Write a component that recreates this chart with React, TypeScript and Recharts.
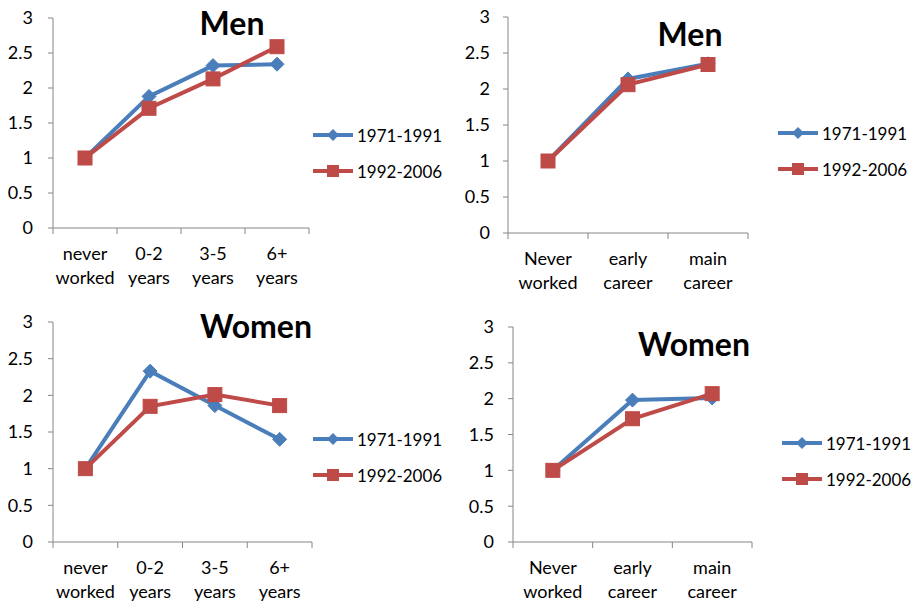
import React from "react";
import { LineChart, Line, XAxis, YAxis, Legend } from "recharts";

// categories
const yearsCats = ["never\nworked", "0-2\nyears", "3-5\nyears", "6+\nyears"];
const careerCats = ["Never\nworked", "early\ncareer", "main\ncareer"];

// series values
const men71Years = [1, 1.88, 2.32, 2.34];
const men92Years = [1, 1.71, 2.13, 2.59];
const men71Career = [1, 2.14, 2.35];
const men92Career = [1, 2.06, 2.34];
const women71Years = [1, 2.33, 1.86, 1.4];
const women92Years = [1, 1.85, 2.01, 1.86];
const women71Career = [1, 1.98, 2.01];
const women92Career = [1, 1.72, 2.07];

const seriesNames = ["1971-1991", "1992-2006"];
const yTicks = [0, 0.5, 1, 1.5, 2, 2.5, 3];

const BLUE = "#4A7EBB";
const RED = "#BE4B48";
const AXIS = "#868686";
const FONT = "Lato, 'Liberation Sans', sans-serif";

const Diamond = ({ cx, cy }: any) => {
	if (cx == null || cy == null) return null;
	const r = 7;
	return <path d={`M${cx},${cy - r}L${cx + r},${cy}L${cx},${cy + r}L${cx - r},${cy}Z`} fill={BLUE} stroke={BLUE} />;
};

const Square = ({ cx, cy }: any) => {
	if (cx == null || cy == null) return null;
	return <rect x={cx - 7} y={cy - 7} width={14} height={14} fill={RED} stroke={RED} />;
};

const CatTick = ({ x, y, payload, index, visibleTicksCount, step }: any) => {
	const lines = String(payload.value).split("\n");
	return (
		<g>
			<line x1={x - step / 2} x2={x - step / 2} y1={y} y2={y + 6} stroke={AXIS} />
			{index === visibleTicksCount - 1 && (
				<line x1={x + step / 2} x2={x + step / 2} y1={y} y2={y + 6} stroke={AXIS} />
			)}
			<text x={x} y={y + 32} textAnchor="middle" fill="#000" fontSize={18} fontFamily={FONT}>
				{lines[0]}
			</text>
			<text x={x} y={y + 56} textAnchor="middle" fill="#000" fontSize={18} fontFamily={FONT}>
				{lines[1]}
			</text>
		</g>
	);
};

const LegendBox = () => (
	<div style={{ fontFamily: FONT, fontSize: 17, color: "#000", whiteSpace: "nowrap" }}>
		{seriesNames.map((name, i) => (
			<div key={name} style={{ display: "flex", alignItems: "center", height: 36 }}>
				<svg width={40} height={16} style={{ marginRight: 4, flexShrink: 0 }}>
					<line x1={0} x2={40} y1={8} y2={8} stroke={i === 0 ? BLUE : RED} strokeWidth={4} />
					{i === 0 ? (
						<path d="M20,2L26,8L20,14L14,8Z" fill={BLUE} />
					) : (
						<rect x={14} y={2} width={12} height={12} fill={RED} />
					)}
				</svg>
				<span>{name}</span>
			</div>
		))}
	</div>
);

interface PanelProps {
	title: string;
	cats: string[];
	a: number[];
	b: number[];
	left: number;
	top: number;
	plot: { l: number; t: number; r: number; b: number };
	titlePos: [number, number];
	legendPos: [number, number];
	yGap: number;
}

const W = 457;
const H = 306;

function Panel({ title, cats, a, b, left, top, plot, titlePos, legendPos, yGap }: PanelProps) {
	const data = cats.map((c, i) => ({ cat: c, a: a[i], b: b[i] }));
	const step = (plot.r - plot.l) / cats.length;
	return (
		<div style={{ position: "absolute", left, top, width: W, height: H }}>
			<LineChart width={W} height={H} data={data} margin={{ top: plot.t, right: W - plot.r, bottom: 0, left: 0 }}>
				<XAxis
					dataKey="cat"
					interval={0}
					height={H - plot.b}
					padding={{ left: step / 2, right: step / 2 }}
					stroke={AXIS}
					tickLine={false}
					tickSize={0}
					tickMargin={0}
					tick={(p: any) => <CatTick {...p} step={step} />}
				/>
				<YAxis
					width={plot.l}
					domain={[0, 3]}
					ticks={yTicks}
					interval={0}
					stroke={AXIS}
					tickSize={5}
					tickMargin={yGap - 5}
					tick={{ fill: "#000", fontSize: 18, fontFamily: FONT }}
				/>
				<Legend
					layout="vertical"
					align="center"
					verticalAlign="middle"
					wrapperStyle={{ left: legendPos[0], top: legendPos[1], width: 140 }}
					content={() => <LegendBox />}
				/>
				<Line dataKey="a" name={seriesNames[0]} stroke={BLUE} strokeWidth={4} dot={<Diamond />} activeDot={false} isAnimationActive={false} />
				<Line dataKey="b" name={seriesNames[1]} stroke={RED} strokeWidth={4} dot={<Square />} activeDot={false} isAnimationActive={false} />
			</LineChart>
			<div
				style={{
					position: "absolute",
					left: titlePos[0],
					top: titlePos[1],
					transform: "translate(-50%, -50%)",
					fontFamily: FONT,
					fontWeight: 700,
					fontSize: 32,
					color: "#000",
					whiteSpace: "nowrap",
				}}
			>
				{title}
			</div>
		</div>
	);
}

export default function App() {
	return (
		<div style={{ position: "absolute", left: 0, top: 0, width: 915, height: 602, background: "#fff", overflow: "hidden" }}>
			<Panel
				title="Men"
				cats={yearsCats}
				a={men71Years}
				b={men92Years}
				left={0}
				top={0}
				plot={{ l: 53, t: 18, r: 309, b: 228 }}
				titlePos={[232, 22]}
				legendPos={[313, 117]}
				yGap={20}
			/>
			<Panel
				title="Men"
				cats={careerCats}
				a={men71Career}
				b={men92Career}
				left={457}
				top={0}
				plot={{ l: 51, t: 17, r: 291, b: 233 }}
				titlePos={[233, 33]}
				legendPos={[321, 115]}
				yGap={18}
			/>
			<Panel
				title="Women"
				cats={yearsCats}
				a={women71Years}
				b={women92Years}
				left={0}
				top={300}
				plot={{ l: 53, t: 22, r: 312, b: 242 }}
				titlePos={[256, 25]}
				legendPos={[313, 121]}
				yGap={20}
			/>
			<Panel
				title="Women"
				cats={careerCats}
				a={women71Career}
				b={women92Career}
				left={457}
				top={300}
				plot={{ l: 56, t: 27, r: 295, b: 242 }}
				titlePos={[237, 43]}
				legendPos={[325, 125]}
				yGap={19}
			/>
		</div>
	);
}
